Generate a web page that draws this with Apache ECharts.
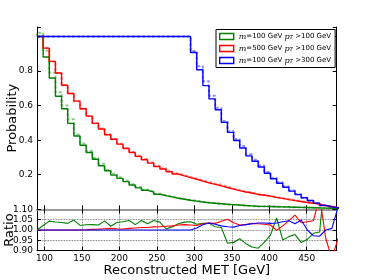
<!DOCTYPE html>
<html><head><meta charset="utf-8">
<script src="https://cdn.jsdelivr.net/npm/echarts@6/dist/echarts.min.js"></script>
<style>html,body{margin:0;padding:0;background:#fff}#c{width:374px;height:280px}</style>
</head><body><div id="c"></div>
<script>
const edges = [90, 98.2, 106.4, 114.6, 122.8, 131, 139.2, 147.4, 155.6, 163.8, 172, 180.2, 188.4, 196.6, 204.8, 213, 221.2, 229.4, 237.6, 245.8, 254, 262.2, 270.4, 278.6, 286.8, 295, 303.2, 311.4, 319.6, 327.8, 336, 344.2, 352.4, 360.6, 368.8, 377, 385.2, 393.4, 401.6, 409.8, 418, 426.2, 434.4, 442.6, 450.8, 459, 467.2, 475.4, 483.6, 491.8, 500];
const xTicks = [100, 150, 200, 250, 300, 350, 400, 450];
const probTickLabels = [0.2, 0.4, 0.6, 0.8];
const ratioTicks = [0.90, 0.95, 1.00, 1.05, 1.10];

const greenSolid = [1.0, 1.0, 0.881, 0.760, 0.654, 0.582, 0.497, 0.424, 0.371, 0.329, 0.290, 0.252, 0.223, 0.198, 0.179, 0.160, 0.141, 0.124, 0.110, 0.099, 0.087, 0.079, 0.072, 0.064, 0.058, 0.052, 0.047, 0.042, 0.038, 0.035, 0.032, 0.029, 0.027, 0.025, 0.022, 0.020, 0.018, 0.017, 0.016, 0.015, 0.014, 0.013, 0.012, 0.011, 0.010, 0.009, 0.008, 0.007, 0.006, 0.005];
const redSolid = [1.0, 1.0, 0.933, 0.856, 0.789, 0.718, 0.670, 0.626, 0.582, 0.539, 0.497, 0.465, 0.431, 0.405, 0.377, 0.352, 0.329, 0.306, 0.287, 0.267, 0.248, 0.233, 0.217, 0.204, 0.193, 0.183, 0.174, 0.163, 0.153, 0.144, 0.136, 0.126, 0.117, 0.108, 0.100, 0.094, 0.086, 0.081, 0.076, 0.069, 0.063, 0.056, 0.050, 0.045, 0.039, 0.035, 0.030, 0.022, 0.016, 0.010];
const blueSolid = [1.0, 1.0, 1.0, 1.0, 1.0, 1.0, 1.0, 1.0, 1.0, 1.0, 1.0, 1.0, 1.0, 1.0, 1.0, 1.0, 1.0, 1.0, 1.0, 1.0, 1.0, 1.0, 1.0, 1.0, 1.0, 1.0, 0.907, 0.808, 0.716, 0.639, 0.576, 0.503, 0.445, 0.398, 0.355, 0.309, 0.278, 0.245, 0.209, 0.177, 0.151, 0.128, 0.105, 0.085, 0.067, 0.051, 0.036, 0.023, 0.014, 0.008];

const greenRatio = [1.000, 1.022, 1.043, 1.039, 1.036, 1.032, 1.048, 1.022, 1.025, 1.026, 1.024, 1.044, 1.018, 1.036, 1.040, 1.046, 1.026, 1.046, 1.030, 1.046, 1.038, 1.005, 1.015, 1.030, 1.038, 1.040, 1.028, 1.032, 1.032, 1.016, 1.012, 0.936, 0.940, 0.958, 0.934, 0.918, 0.912, 0.940, 0.975, 1.058, 0.952, 0.968, 0.978, 0.940, 0.955, 0.984, 0.990, 1.300, 1.300, 1.300];
const redRatio = [1.000, 1.000, 1.000, 1.000, 1.000, 1.000, 1.000, 1.000, 1.001, 1.003, 1.004, 1.006, 1.008, 1.006, 1.005, 1.008, 1.010, 1.012, 1.012, 1.015, 1.016, 1.018, 1.020, 1.024, 1.026, 1.024, 1.022, 1.030, 1.034, 1.032, 1.042, 1.052, 1.035, 1.024, 1.026, 1.032, 1.030, 1.028, 1.024, 0.998, 1.020, 1.045, 1.072, 1.035, 1.040, 1.045, 1.160, 0.960, 0.860, 0.960];
const blueRatio = [1.000, 1.000, 1.000, 1.000, 1.000, 1.000, 1.000, 1.000, 1.000, 1.000, 1.000, 1.000, 1.000, 1.000, 1.000, 1.000, 1.000, 1.000, 1.000, 1.000, 1.000, 1.000, 1.000, 1.000, 1.000, 1.000, 1.010, 1.025, 1.034, 1.028, 1.020, 1.016, 1.014, 1.022, 1.026, 1.030, 1.034, 1.034, 1.032, 1.034, 1.040, 1.045, 1.030, 1.048, 1.000, 0.972, 0.970, 1.000, 1.008, 1.110];

const names = ['g', 'r', 'b'];
const colors = ['#008000', '#ff0000', '#0000ff'];
const legendMass = ['100', '500', '100'];
const legendPt = ['100', '100', '300'];
const solids = [greenSolid, redSolid, blueSolid];
const ratios = [greenRatio, redRatio, blueRatio];

function stepData(vals) {
  const d = vals.map((v, i) => [edges[i], v]);
  d.push([edges[vals.length], vals[vals.length - 1]]);
  return d;
}
function dashedData(vals, r) {
  return stepData(vals.map((v, i) => v * r[i]));
}
function ratioData(r) { return r.map((v, i) => [edges[i], v]); }

const FONT = 'DejaVu Sans';
const tickStyle = { inside: true, length: 4, lineStyle: { color: '#000', width: 1 } };
const lineBlack = { show: true, lineStyle: { color: '#000', width: 1 } };

const series = [];
for (let k = 0; k < 3; k++) {
  series.push({
    name: names[k] + 'd', type: 'line', xAxisIndex: 0, yAxisIndex: 0, step: 'start',
    data: dashedData(solids[k], ratios[k]), showSymbol: false, symbol: 'none',
    lineStyle: { color: colors[k], width: 2, type: [3, 2], opacity: 0.45 }, z: 2
  });
  series.push({
    name: names[k], type: 'line', xAxisIndex: 0, yAxisIndex: 0, step: 'start',
    data: stepData(solids[k]), showSymbol: false, symbol: 'none',
    itemStyle: { color: colors[k] },
    lineStyle: { color: colors[k], width: 1.4 }, z: 3
  });
}
for (let k = 0; k < 3; k++) {
  series.push({
    name: names[k] + 'ratio', type: 'line', xAxisIndex: 2, yAxisIndex: 2,
    data: ratioData(ratios[k]), showSymbol: false, symbol: 'none',
    lineStyle: { color: colors[k], width: 1.1 }, z: 3
  });
}

const chart = echarts.init(document.getElementById('c'), null, { renderer: 'canvas' });
const xBase = { type: 'value', min: 90, max: 490, splitLine: { show: false },
  axisTick: Object.assign({ customValues: xTicks }, tickStyle),
  axisLabel: { show: false, customValues: xTicks } };
chart.setOption({
  animation: false,
  backgroundColor: '#fff',
  textStyle: { fontFamily: FONT },
  grid: [
    { left: 37, top: 27, width: 299.7, height: 182.3, outerBoundsMode: 'none', containLabel: false },
    { left: 37, top: 209.3, width: 299.7, height: 41.4, outerBoundsMode: 'none', containLabel: false }
  ],
  legend: {
    orient: 'vertical', left: 216, top: 29.5,
    itemWidth: 14, itemHeight: 6, itemGap: 4,
    padding: [3, 4, 3, 3],
    backgroundColor: '#fff', borderColor: '#000', borderWidth: 1,
    data: names.map((n, i) => ({ name: n, icon: 'rect',
      itemStyle: { color: '#fff', borderColor: colors[i], borderWidth: 1.4 } })),
    formatter: function (n) {
      const i = names.indexOf(n);
      return '{mi|m}{t|=' + legendMass[i] + ' GeV }{mi|p}{sub|T}{t| >' + legendPt[i] + ' GeV}';
    },
    textStyle: {
      fontSize: 7, color: '#000', lineHeight: 8,
      rich: {
        t: { fontFamily: FONT, fontSize: 7, color: '#000' },
        mi: { fontFamily: 'DejaVu Serif', fontStyle: 'italic', fontSize: 8, color: '#000' },
        sub: { fontFamily: 'DejaVu Serif', fontStyle: 'italic', fontSize: 5, color: '#000', verticalAlign: 'bottom', padding: [4, 0, 0, 0] }
      }
    }
  },
  xAxis: [
    Object.assign({}, xBase, { gridIndex: 0, position: 'bottom', axisLine: lineBlack }),
    Object.assign({}, xBase, { gridIndex: 0, position: 'top', axisLine: lineBlack }),
    Object.assign({}, xBase, { gridIndex: 1, position: 'bottom', axisLine: lineBlack,
      axisLabel: { show: true, customValues: xTicks, fontSize: 9, color: '#000', margin: 3, fontFamily: FONT },
      splitLine: { show: true, lineStyle: { color: '#555', type: 'dotted', width: 0.8 } },
      name: 'Reconstructed MET [GeV]', nameLocation: 'middle', nameGap: 13, nameMoveOverlap: false,
      nameTextStyle: { fontSize: 13, color: '#000', fontFamily: FONT } }),
    Object.assign({}, xBase, { gridIndex: 1, position: 'top',
      axisLine: { show: true, lineStyle: { color: '#999', width: 2 } } })
  ],
  yAxis: [
    { type: 'value', gridIndex: 0, position: 'left', min: 0, max: 1.055, interval: 0.2,
      axisLine: lineBlack, axisTick: tickStyle, splitLine: { show: false },
      axisLabel: { fontSize: 9, color: '#000', margin: 4, fontFamily: FONT,
        formatter: v => probTickLabels.some(t => Math.abs(t - v) < 1e-6) ? v.toFixed(1) : '' },
      name: 'Probability', nameLocation: 'middle', nameGap: 18, nameMoveOverlap: false,
      nameTextStyle: { fontSize: 13, color: '#000', fontFamily: FONT } },
    { type: 'value', gridIndex: 0, position: 'right', min: 0, max: 1.055, interval: 0.2,
      axisLine: lineBlack, axisTick: tickStyle, splitLine: { show: false }, axisLabel: { show: false } },
    { type: 'value', gridIndex: 1, position: 'left', min: 0.9, max: 1.1, interval: 0.05,
      axisLine: lineBlack, axisTick: tickStyle,
      splitLine: { show: true, lineStyle: { color: '#555', type: 'dotted', width: 0.8 } },
      axisLabel: { fontSize: 9, color: '#000', margin: 4, fontFamily: FONT,
        formatter: v => ratioTicks.some(t => Math.abs(t - v) < 1e-6) ? v.toFixed(2) : '' },
      name: 'Ratio', nameLocation: 'middle', nameGap: 21, nameMoveOverlap: false,
      nameTextStyle: { fontSize: 13, color: '#000', fontFamily: FONT } },
    { type: 'value', gridIndex: 1, position: 'right', min: 0.9, max: 1.1, interval: 0.05,
      axisLine: lineBlack, axisTick: tickStyle, splitLine: { show: false }, axisLabel: { show: false } }
  ],
  series: series
});
</script></body></html>
